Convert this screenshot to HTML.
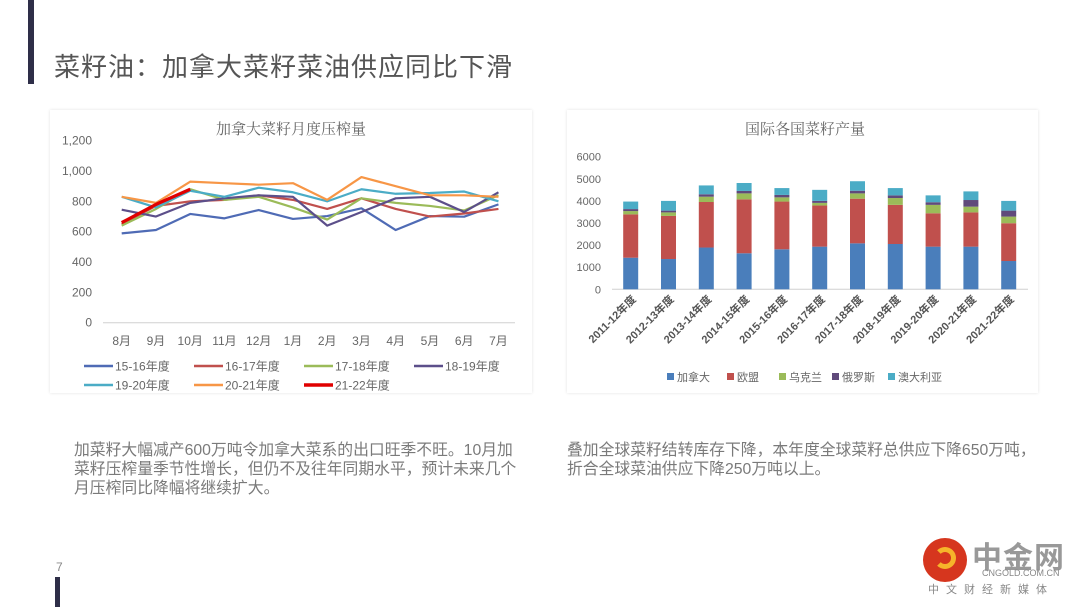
<!DOCTYPE html>
<html><head><meta charset="utf-8">
<style>
html,body{margin:0;padding:0;background:#fff;}
body{width:1080px;height:607px;position:relative;overflow:hidden;font-family:"Liberation Sans","Noto Sans CJK SC",sans-serif;}
.abs{position:absolute;}
.panel{position:absolute;background:#fff;box-shadow:0 0 3px rgba(0,0,0,0.12);}
.para{position:absolute;color:#7a7a7a;font-size:15.8px;line-height:19px;white-space:nowrap;}
</style></head>
<body>
<div class="abs" style="left:28px;top:0;width:6px;height:84px;background:#2e2e48;"></div>
<div class="abs" style="left:54px;top:47px;font-size:26px;color:#555;letter-spacing:1px;white-space:nowrap;">菜籽油：加拿大菜籽菜油供应同比下滑</div>

<div class="panel" style="left:50px;top:110px;width:482px;height:283px;"></div>
<svg class="abs" id="lc" style="left:0;top:0" width="1080" height="607"></svg>

<div class="panel" style="left:567px;top:110px;width:471px;height:283px;"></div>
<svg class="abs" id="bc" style="left:0;top:0" width="1080" height="607"></svg>

<div class="para" style="left:74px;top:441px;">加菜籽大幅减产600万吨令加拿大菜系的出口旺季不旺。10月加<br>菜籽压榨量季节性增长，但仍不及往年同期水平，预计未来几个<br>月压榨同比降幅将继续扩大。</div>
<div class="para" style="left:567px;top:441px;">叠加全球菜籽结转库存下降，本年度全球菜籽总供应下降650万吨，<br>折合全球菜油供应下降250万吨以上。</div>

<div class="abs" style="left:56px;top:560px;font-size:12px;color:#888;">7</div>
<div class="abs" style="left:55px;top:577px;width:5px;height:30px;background:#2e2e48;"></div>

<div class="abs" style="left:920px;top:535px;width:150px;height:65px;">
  <div style="position:absolute;left:3px;top:3px;width:44px;height:44px;border-radius:50%;background:#d6361e;"></div>
  <div style="position:absolute;left:14px;top:12px;width:22px;height:22px;border-radius:50%;border:5px solid #f6b52a;border-left-color:transparent;box-sizing:border-box;"></div>
  <div style="position:absolute;left:52px;top:-2px;font-size:30px;font-weight:bold;color:#999;letter-spacing:1px;">中金网</div>
  <div style="position:absolute;left:62px;top:33px;font-size:9px;color:#888;">CNGOLD.COM.CN</div>
  <div style="position:absolute;left:8px;top:46px;font-size:11px;color:#888;letter-spacing:7px;">中文财经新媒体</div>
</div>

<script>
const NS="http://www.w3.org/2000/svg";
function mk(parent,tag,attrs,txt){const e=document.createElementNS(NS,tag);for(const k in attrs)e.setAttribute(k,attrs[k]);if(txt!==undefined)e.textContent=txt;parent.appendChild(e);return e;}

// ===== Line chart data =====
const months=["8月","9月","10月","11月","12月","1月","2月","3月","4月","5月","6月","7月"];
const yTicks=[0,200,400,600,800,1000,1200];
const yTickLabels=["0","200","400","600","800","1,000","1,200"];
const seriesNames=["15-16年度","16-17年度","17-18年度","18-19年度","19-20年度","20-21年度","21-22年度"];
const s1516=[589,611,717,688,743,684,703,754,611,703,699,780];
const s1617=[650,770,800,810,840,810,750,820,750,700,720,750];
const s1718=[640,750,880,810,830,760,680,820,790,770,740,840];
const s1819=[745,700,790,820,840,830,640,730,820,830,730,860];
const s1920=[830,760,870,830,890,860,800,880,850,855,865,800];
const s2021=[830,790,930,920,910,920,810,960,900,840,840,830];
const s2122=[660,780,880];

const lc=document.getElementById('lc');
const lineColors=["#4f6bb5","#c0504d","#9bbb59","#5c4f8a","#4bacc6","#f79646","#e00000"];
const lineWidths=[2.2,2.2,2.2,2.2,2.2,2.2,3.2];
const lx=i=>121.7+i*34.25;
const ly=v=>322.7-v*(182/1200);
let t=mk(lc,'text',{x:291,y:134,'text-anchor':'middle','font-size':15,fill:'#666','font-family':'"Liberation Serif","Noto Serif CJK SC",serif'},"加拿大菜籽月度压榨量");


yTicks.forEach((v,i)=>{const e=mk(lc,'text',{x:92,y:ly(v)+4,'text-anchor':'end','font-size':12,fill:'#666'},yTickLabels[i]);

});
let ax=mk(lc,'line',{x1:103,x2:515,y1:ly(0),y2:ly(0),stroke:'#d0d0d0','stroke-width':1});


months.forEach((m,i)=>{const e=mk(lc,'text',{x:lx(i),y:345,'text-anchor':'middle','font-size':12,fill:'#666'},m);

});
[s1516,s1617,s1718,s1819,s1920,s2021,s2122].forEach((s,k)=>{
  const p=mk(lc,'polyline',{points:s.map((v,i)=>lx(i)+','+ly(v)).join(' '),fill:'none',stroke:lineColors[k],'stroke-width':lineWidths[k],'stroke-linejoin':'round'});
  
  
});
seriesNames.forEach((n,k)=>{
  const x=84+(k%4)*110, y=k<4?366:385;
  const g=mk(lc,'g',{});
  
  
  mk(g,'line',{x1:x,x2:x+29,y1:y,y2:y,stroke:lineColors[k],'stroke-width':k==6?3.5:2.5});
  mk(g,'text',{x:x+31,y:y+4.5,'font-size':12,fill:'#666'},n);
});

// ===== Bar chart data =====
const years=["2011-12年度","2012-13年度","2013-14年度","2014-15年度","2015-16年度","2016-17年度","2017-18年度","2018-19年度","2019-20年度","2020-21年度","2021-22年度"];
const countries=["加拿大","欧盟","乌克兰","俄罗斯","澳大利亚"];
const canada=[1430,1370,1890,1630,1810,1930,2080,2050,1930,1930,1280];
const eu=[1960,1950,2060,2440,2160,1860,2020,1770,1510,1550,1710];
const ukraine=[150,160,240,270,190,120,240,310,380,260,300];
const russia=[90,80,110,110,110,90,120,120,120,300,270];
const australia=[340,440,400,360,310,500,430,330,310,390,440];
const bTicks=[0,1000,2000,3000,4000,5000,6000];

const bc=document.getElementById('bc');
const barColors=["#4a7ebb","#c0504d","#9bbb59","#604a7b","#4bacc6"];
const bx=i=>630.7+i*37.8;
const by=v=>289.3-v*(132.6/6000);
t=mk(bc,'text',{x:805,y:134,'text-anchor':'middle','font-size':15,fill:'#666','font-family':'"Liberation Serif","Noto Serif CJK SC",serif'},"国际各国菜籽产量");


bTicks.forEach(v=>{const e=mk(bc,'text',{x:601,y:by(v)+4,'text-anchor':'end','font-size':11,fill:'#666'},String(v));

});
ax=mk(bc,'line',{x1:612,x2:1028,y1:by(0),y2:by(0),stroke:'#d0d0d0','stroke-width':1});


const stacks=[canada,eu,ukraine,russia,australia];
years.forEach((yr,i)=>{
  let base=0;
  stacks.forEach((s,k)=>{
    const v=s[i];
    const r=mk(bc,'rect',{x:bx(i)-7.5,y:by(base+v),width:15,height:by(base)-by(base+v),fill:barColors[k]});
    
    
    base+=v;
  });
  const e=mk(bc,'text',{x:bx(i)+6,y:300,'text-anchor':'end','font-size':11,fill:'#555','font-weight':'bold',transform:'rotate(-45 '+(bx(i)+6)+' 300)'},yr);
  
  
});
const legX=[667,727,779,832,888];
countries.forEach((c,k)=>{
  const g=mk(bc,'g',{});
  
  
  mk(g,'rect',{x:legX[k],y:373,width:7,height:7,fill:barColors[k]});
  mk(g,'text',{x:legX[k]+10,y:381,'font-size':11,fill:'#666'},c);
});
</script>
</body></html>
